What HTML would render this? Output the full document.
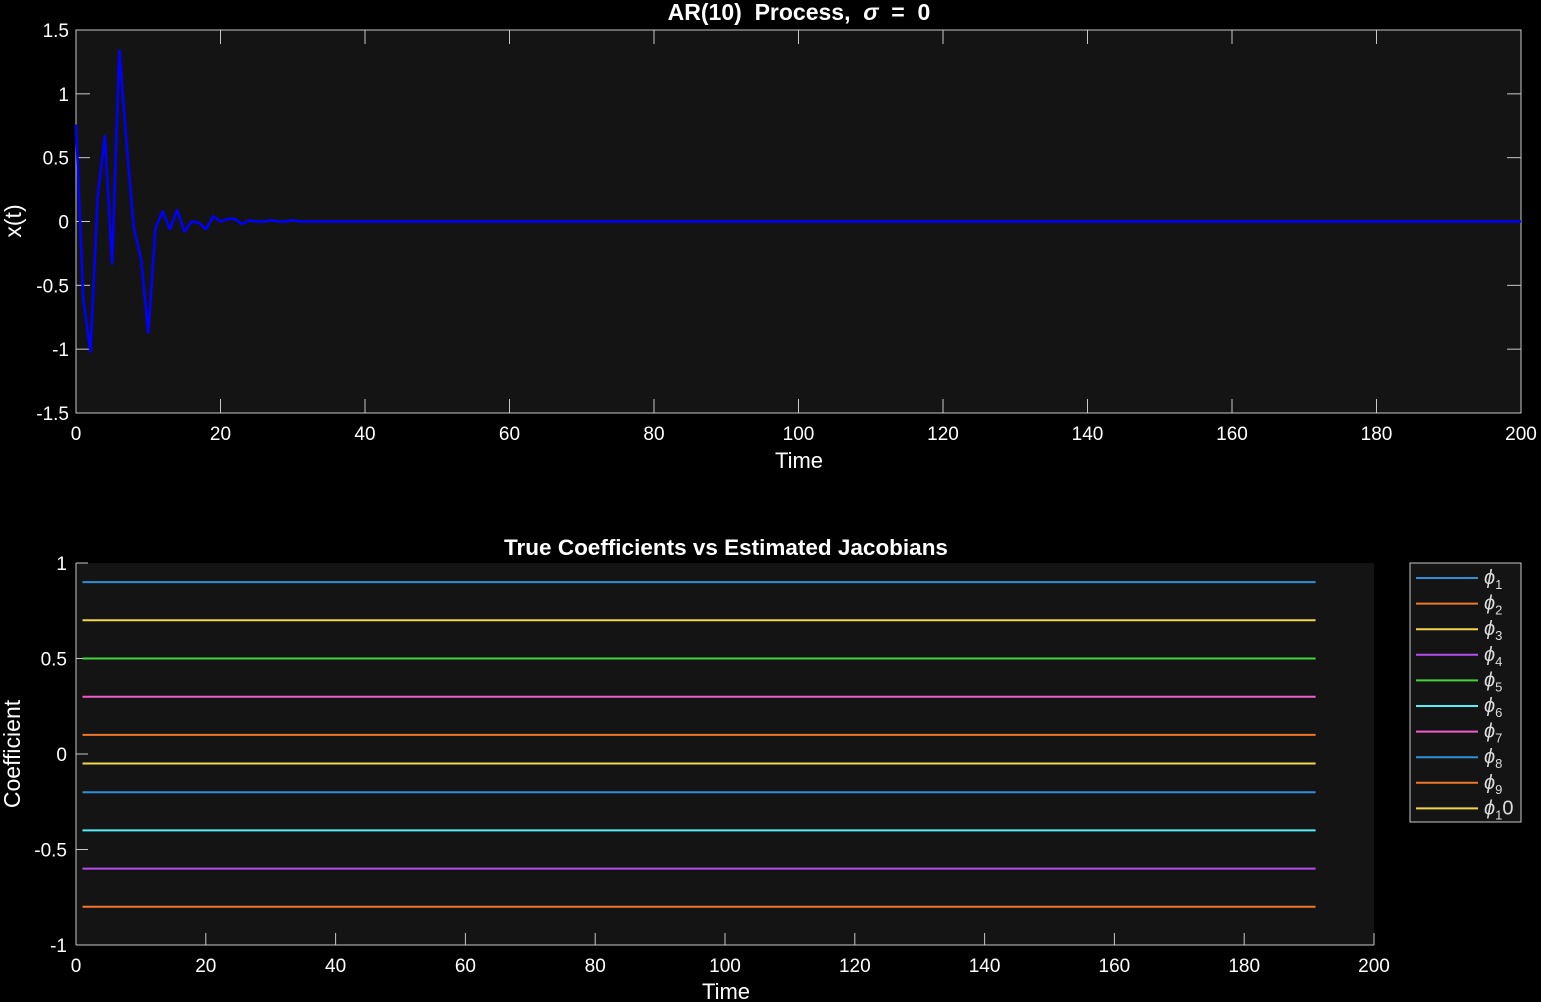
<!DOCTYPE html>
<html><head><meta charset="utf-8"><style>
html,body{margin:0;padding:0;background:#000;}
svg{display:block;font-family:"Liberation Sans",sans-serif;}
</style></head><body>
<svg id="chart" width="1541" height="1002" viewBox="0 0 1541 1002" xmlns="http://www.w3.org/2000/svg">
<rect x="0" y="0" width="1541" height="1002" fill="#000"/>
<g id="topPlot"></g>
<g id="botPlot"></g>
</svg>
<script>
const signalValues = [0.76,-0.6,-1.02,0.19,0.67,-0.33,1.34,0.61,-0.05,-0.29,-0.87,-0.05,0.08,-0.06,0.09,-0.08,0.0,-0.01,-0.06,0.04,0,0.02,0.02,-0.02,0.01,0,0,0.01,0,0,0.01];
const signalLength = 201;
const topXTicks = [0,20,40,60,80,100,120,140,160,180,200];
const topYTicks = [-1.5,-1,-0.5,0,0.5,1,1.5];
const coefNames = ["1","2","3","4","5","6","7","8","9","10"];
const coefValues = [0.9,-0.8,0.7,-0.6,0.5,-0.4,0.3,-0.2,0.1,-0.05];
const coefColors = ["#2f8fd8","#f0762a","#f2d74a","#b44ef0","#44d43c","#58eef5","#ee5ec8","#2f8fd8","#f0762a","#f2d74a"];
const coefStart = 1, coefEnd = 191;
const botXTicks = [0,20,40,60,80,100,120,140,160,180,200];
const botYTicks = [-1,-0.5,0,0.5,1];

const NS="http://www.w3.org/2000/svg";
function mk(parent,tag,attrs){const e=document.createElementNS(NS,tag);for(const k in attrs)e.setAttribute(k,attrs[k]);parent.appendChild(e);return e;}
const AX="#c8c8c8";
function fmt(v){return String(v);}

// TOP
const topG=document.getElementById('topPlot');
const T={x0:76,x1:1521,y0:30,y1:413,xmin:0,xmax:200,ymin:-1.5,ymax:1.5};
const tx=v=>T.x0+(v-T.xmin)/(T.xmax-T.xmin)*(T.x1-T.x0);
const ty=v=>T.y1-(v-T.ymin)/(T.ymax-T.ymin)*(T.y1-T.y0);
let r=mk(topG,'rect',{x:T.x0,y:T.y0,width:T.x1-T.x0,height:T.y1-T.y0,fill:'#141414',stroke:AX,'stroke-width':1});


topXTicks.forEach(v=>{const x=tx(v);
 mk(topG,'line',{x1:x,x2:x,y1:T.y1,y2:T.y1-14,stroke:AX});
 mk(topG,'line',{x1:x,x2:x,y1:T.y0,y2:T.y0+14,stroke:AX});
 const t=mk(topG,'text',{x:x,y:T.y1+27,fill:'#fff','font-size':19,'text-anchor':'middle'});t.textContent=fmt(v);
 
 });
topYTicks.forEach(v=>{const y=ty(v);
 mk(topG,'line',{x1:T.x0,x2:T.x0+14,y1:y,y2:y,stroke:AX});
 mk(topG,'line',{x1:T.x1,x2:T.x1-14,y1:y,y2:y,stroke:AX});
 const t=mk(topG,'text',{x:T.x0-7,y:y+7,fill:'#fff','font-size':19,'text-anchor':'end'});t.textContent=fmt(v);
 
 });
let pts=[];for(let i=0;i<signalLength;i++){const v=i<signalValues.length?signalValues[i]:0;pts.push(tx(i)+','+ty(v));}
let pl=mk(topG,'polyline',{points:pts.join(' '),fill:'none',stroke:'#0000ff','stroke-width':2.5,'stroke-linejoin':'round'});


let tt=mk(topG,'text',{x:799,y:20,fill:'#fff','font-size':23,'font-weight':'bold','text-anchor':'middle'});
tt.innerHTML='AR(10)&#160; Process,&#160; <tspan font-style="italic">σ</tspan>&#160; =&#160; 0';


let xl=mk(topG,'text',{x:799,y:468,fill:'#fff','font-size':22,'text-anchor':'middle'});xl.textContent='Time';


let yl=mk(topG,'text',{x:21,y:221,fill:'#fff','font-size':23,'text-anchor':'middle',transform:'rotate(-90 21 221)'});yl.textContent='x(t)';



// BOTTOM
const botG=document.getElementById('botPlot');
const B={x0:76,x1:1374,y0:563,y1:945,xmin:0,xmax:200,ymin:-1,ymax:1};
const bx=v=>B.x0+(v-B.xmin)/(B.xmax-B.xmin)*(B.x1-B.x0);
const by=v=>B.y1-(v-B.ymin)/(B.ymax-B.ymin)*(B.y1-B.y0);
r=mk(botG,'rect',{x:B.x0,y:B.y0,width:B.x1-B.x0,height:B.y1-B.y0,fill:'#141414'});


mk(botG,'line',{x1:B.x0,x2:B.x1,y1:B.y1,y2:B.y1,stroke:AX});
mk(botG,'line',{x1:B.x0,x2:B.x0,y1:B.y0,y2:B.y1,stroke:AX});
botXTicks.forEach(v=>{const x=bx(v);
 mk(botG,'line',{x1:x,x2:x,y1:B.y1,y2:B.y1-12,stroke:AX});
 const t=mk(botG,'text',{x:x,y:B.y1+27,fill:'#fff','font-size':19,'text-anchor':'middle'});t.textContent=fmt(v);
 
 });
botYTicks.forEach(v=>{const y=by(v);
 mk(botG,'line',{x1:B.x0,x2:B.x0+12,y1:y,y2:y,stroke:AX});
 const t=mk(botG,'text',{x:B.x0-9,y:y+7,fill:'#fff','font-size':19,'text-anchor':'end'});t.textContent=fmt(v);
 
 });
coefValues.forEach((v,i)=>{
 const l=mk(botG,'line',{x1:bx(coefStart),x2:bx(coefEnd),y1:by(v),y2:by(v),stroke:coefColors[i],'stroke-width':2});
 
 });
tt=mk(botG,'text',{x:726,y:555,fill:'#fff','font-size':22.5,'font-weight':'bold','text-anchor':'middle'});tt.textContent='True Coefficients vs Estimated Jacobians';


xl=mk(botG,'text',{x:726,y:999,fill:'#fff','font-size':22,'text-anchor':'middle'});xl.textContent='Time';


yl=mk(botG,'text',{x:20,y:754,fill:'#fff','font-size':23,'text-anchor':'middle',transform:'rotate(-90 20 754)'});yl.textContent='Coefficient';


// legend
const lg=mk(botG,'g',{});


mk(lg,'rect',{x:1410,y:563,width:111,height:259,fill:'#141414',stroke:'#c8c8c8'});
coefNames.forEach((n,i)=>{const y=578+i*25.6;
 const e=mk(lg,'g',{});
 
 
 mk(e,'line',{x1:1416,x2:1478,y1:y,y2:y,stroke:coefColors[i],'stroke-width':2});
 const t=mk(e,'text',{x:1484,y:y+6,fill:'#ddd','font-size':20});
 if(n==='10'){t.innerHTML='<tspan font-style="italic">ϕ</tspan><tspan font-size="13" dy="5">1</tspan><tspan dy="-5">0</tspan>';}
 else{t.innerHTML='<tspan font-style="italic">ϕ</tspan><tspan font-size="13" dy="5">'+n+'</tspan>';}
});
</script>
</body></html>
